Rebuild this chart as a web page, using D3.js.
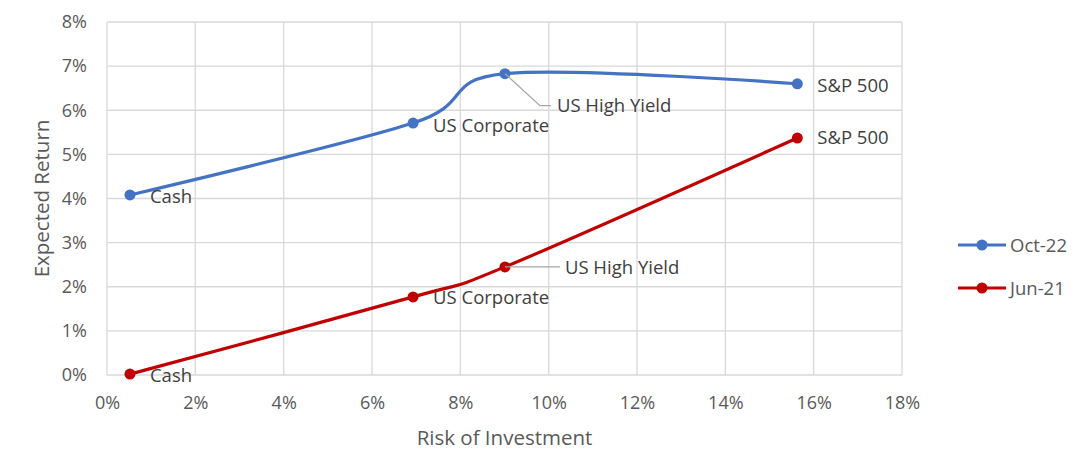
<!DOCTYPE html>
<html>
<head>
<meta charset="utf-8">
<script src="https://cdn.jsdelivr.net/npm/d3@7"></script>
<style>
  body { margin: 0; background: #fff; }
  text { font-family: "Open Sans", Lato, sans-serif; }
</style>
</head>
<body>
<svg></svg>
<script>
// chart data
let seriesNames = ['Oct-22', 'Jun-21']
let seriesColors = ['#4472C4', '#C00000']
let assets = ['Cash', 'US Corporate', 'US High Yield', 'S&P 500']
let risk = [0.52, 6.93, 9.01, 15.63]
let oct22 = [4.08, 5.71, 6.83, 6.60]
let jun21 = [0.02, 1.77, 2.45, 5.37]
let xTicks = [0, 2, 4, 6, 8, 10, 12, 14, 16, 18]
let yTicks = [0, 1, 2, 3, 4, 5, 6, 7, 8]

let width = 1088
let height = 474
let plotLeft = 107
let plotRight = 902
let plotTop = 22
let plotBottom = 375
let font = '"Open Sans", sans-serif'

let svg = d3.select('svg').attr('width', width).attr('height', height)

let xScale = d3.scaleLinear().domain([0, 18]).range([plotLeft, plotRight])
let yScale = d3.scaleLinear().domain([0, 8]).range([plotBottom, plotTop])

// gridlines
svg.append('g')
  .selectAll('line')
  .data(xTicks)
  .enter()
  .append('line')
  .attr('x1', d => xScale(d)).attr('x2', d => xScale(d))
  .attr('y1', plotTop).attr('y2', plotBottom)
  .attr('stroke', '#d9d9d9').attr('stroke-width', 1.3)

svg.append('g')
  .selectAll('line')
  .data(yTicks)
  .enter()
  .append('line')
  .attr('x1', plotLeft).attr('x2', plotRight)
  .attr('y1', d => yScale(d)).attr('y2', d => yScale(d))
  .attr('stroke', '#d9d9d9').attr('stroke-width', 1.3)

// axes (labels only)
let xAxis = d3.axisBottom(xScale).tickValues(xTicks).tickSize(0).tickPadding(21).tickFormat(d => d + '%')
let yAxis = d3.axisLeft(yScale).tickValues(yTicks).tickSize(0).tickPadding(20).tickFormat(d => d + '%')

let gx = svg.append('g').attr('transform', 'translate(0,' + plotBottom + ')').call(xAxis)
let gy = svg.append('g').attr('transform', 'translate(' + plotLeft + ',0)').call(yAxis)
gx.select('.domain').remove()
gy.select('.domain').remove()
svg.selectAll('.tick text').attr('font-size', 18).attr('fill', '#595959').attr('font-family', font)

svg.append('text')
  .attr('x', xScale(9)).attr('y', 445)
  .attr('text-anchor', 'middle')
  .attr('font-size', 20.5).attr('fill', '#595959')
  .text('Risk of Investment')

svg.append('text')
  .attr('transform', 'translate(49,' + yScale(4) + ') rotate(-90)')
  .attr('text-anchor', 'middle')
  .attr('font-size', 20.5).attr('fill', '#595959')
  .text('Expected Return')

// series
let allSeries = [oct22, jun21]
let line = d3.line()
  .x((d, i) => xScale(risk[i]))
  .y(d => yScale(d))
  .curve(d3.curveCardinal.tension(0))

allSeries.forEach((vals, s) => {
  svg.append('path')
    .datum(vals)
    .attr('d', line)
    .attr('fill', 'none')
    .attr('stroke', seriesColors[s])
    .attr('stroke-width', 3.2)

  svg.append('g')
    .selectAll('circle')
    .data(vals)
    .enter()
    .append('circle')
    .attr('cx', (d, i) => xScale(risk[i]))
    .attr('cy', d => yScale(d))
    .attr('r', 5.5)
    .attr('fill', seriesColors[s])
})

// data labels
let labelOffsets = [
  [[20, 8], [20, 9], [52, 38], [20, 8]],
  [[20, 8], [20, 7], [60, 7], [20, 6]]
]
let leaders = [
  [null, null, [[0, 0], [35, 32], [46, 32]], null],
  [null, null, [[0, 0], [55, 0]], null]
]

allSeries.forEach((vals, s) => {
  vals.forEach((v, i) => {
    let px = xScale(risk[i])
    let py = yScale(v)
    if (leaders[s][i]) {
      svg.append('path')
        .attr('d', d3.line()(leaders[s][i].map(p => [px + p[0], py + p[1]])))
        .attr('fill', 'none')
        .attr('stroke', '#a6a6a6')
        .attr('stroke-width', 1.3)
    }
    svg.append('text')
      .attr('x', px + labelOffsets[s][i][0])
      .attr('y', py + labelOffsets[s][i][1])
      .attr('font-size', 18.5)
      .attr('fill', '#404040')
      .text(assets[i])
  })
})

// legend
seriesNames.forEach((name, s) => {
  let ly = 245 + s * 43
  let g = svg.append('g')
  g.append('line')
    .attr('x1', 958).attr('x2', 1006)
    .attr('y1', ly).attr('y2', ly)
    .attr('stroke', seriesColors[s]).attr('stroke-width', 3.2)
  g.append('circle')
    .attr('cx', 982).attr('cy', ly).attr('r', 5.5)
    .attr('fill', seriesColors[s])
  g.append('text')
    .attr('x', 1010).attr('y', ly + 6.5)
    .attr('font-size', 18.5).attr('fill', '#595959')
    .text(name)
})
</script>
</body>
</html>
